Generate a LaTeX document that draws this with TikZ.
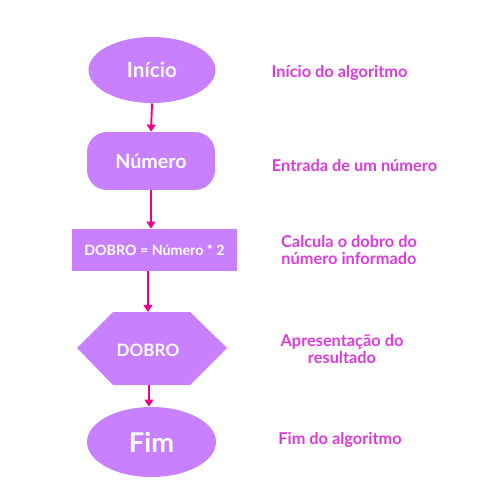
\documentclass[tikz,border=0pt]{standalone}
\usepackage{fontspec}
\setmainfont{Lato}
\usetikzlibrary{shapes.geometric,arrows.meta}
\definecolor{boxfill}{RGB}{200,128,255}
\definecolor{arrowc}{RGB}{236,0,140}
\definecolor{labelc}{RGB}{218,60,218}
\tikzset{
  shp/.style={fill=boxfill,draw=none,text=white,font=\bfseries},
  lbl/.style={text=labelc,font=\bfseries\fontsize{9.3}{9.2}\selectfont,align=center},
  arr/.style={draw=arrowc,line width=1.1pt,-{Triangle[length=4pt,width=5pt]}}
}
\begin{document}
\begin{tikzpicture}[x=0.02cm,y=-0.02cm]
\useasboundingbox (0,0) rectangle (500,500);
\node[shp,ellipse,minimum width=2.54cm,minimum height=1.32cm,inner sep=0pt,font=\bfseries\fontsize{11.8}{13}\selectfont] (ini) at (152,70) {Início};
\node[shp,rounded corners=0.4cm,minimum width=2.56cm,minimum height=1.16cm,inner sep=0pt,font=\bfseries\fontsize{11.2}{12}\selectfont] (num) at (151,161) {Número};
\node[shp,minimum width=3.3cm,minimum height=0.84cm,inner sep=0pt,font=\bfseries\fontsize{8.1}{9}\selectfont] (calc) at (154.5,250) {DOBRO = Número * 2};
\fill[boxfill] (77,348) -- (113,312) -- (190,312) -- (227,348) -- (190,385) -- (113,385) -- cycle;
\node[text=white,font=\bfseries\fontsize{9.7}{11}\selectfont,inner sep=0pt] (out) at (148,350) {DOBRO};
\coordinate (outT) at (148,312);
\coordinate (outB) at (149,385);
\node[shp,ellipse,minimum width=2.58cm,minimum height=1.4cm,inner sep=0pt,font=\bfseries\fontsize{15.5}{17}\selectfont] (fim) at (151.5,442) {Fim};
\draw[arr] (ini.south) -- (num.north);
\draw[arr] (num.south) -- (calc.north-|num.south);
\draw[arr] (calc.south-|outT) -- (outT);
\draw[arr] (outB) -- (fim.north-|outB);
\node[lbl] (l1) at (339.5,73) {Início do algoritmo};
\node[lbl] (l2) at (354.5,165) {Entrada de um número};
\node[lbl] (l3) at (349,250) {Calcula o dobro do\\número informado};
\node[lbl] (l4) at (342,349) {Apresentação do\\resultado};
\node[lbl] (l5) at (340,440) {Fim do algoritmo};
\end{tikzpicture}
\end{document}
